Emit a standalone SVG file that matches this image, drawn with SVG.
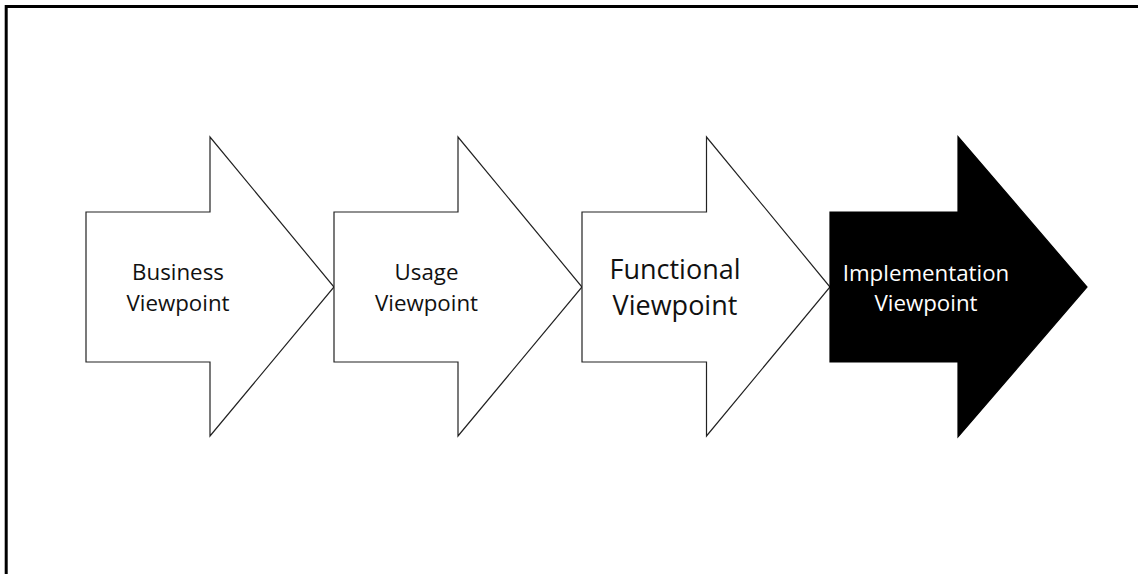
<svg xmlns="http://www.w3.org/2000/svg" width="1138" height="574" viewBox="0 0 1138 574">
  <style>
    .frame { stroke: #000; stroke-width: 3; fill: none; }
    .step { fill: #fff; stroke: #222; stroke-width: 1.2; stroke-linejoin: miter; }
    .step.active { fill: #000; stroke: #000; }
    .label { font-family: "Open Sans", "Noto Sans", "DejaVu Sans", sans-serif; font-size: 22.3px; fill: #111; text-anchor: middle; }
    .label.big { font-size: 27px; }
    .label.inv { fill: #fff; }
  </style>
  <rect width="1138" height="574" fill="#fff"/>
  <!-- frame: top and left edges only -->
  <path class="frame" d="M6.2 574 V6.5 H1138"/>

  <g id="business">
    <polygon class="step" points="86,212 210,212 210,137 334,287 210,436 210,362 86,362"/>
    <text class="label" x="178" y="279.5">Business</text>
    <text class="label" x="178" y="310.5">Viewpoint</text>
  </g>

  <g id="usage">
    <polygon class="step" points="334,212 458,212 458,137 582,287 458,436 458,362 334,362"/>
    <text class="label" x="426.5" y="279.5">Usage</text>
    <text class="label" x="426.5" y="310.5">Viewpoint</text>
  </g>

  <g id="functional">
    <polygon class="step" points="582,212 706.5,212 706.5,137 830,287 706.5,436 706.5,362 582,362"/>
    <text class="label big" x="675" y="278.5">Functional</text>
    <text class="label big" x="675" y="315">Viewpoint</text>
  </g>

  <g id="implementation">
    <polygon class="step active" points="830,212 958,212 958,136.5 1087,287 958,437 958,362 830,362"/>
    <text class="label inv" x="926" y="280.5">Implementation</text>
    <text class="label inv" x="926" y="310.5">Viewpoint</text>
  </g>

  <g id="connectors"></g>
</svg>
